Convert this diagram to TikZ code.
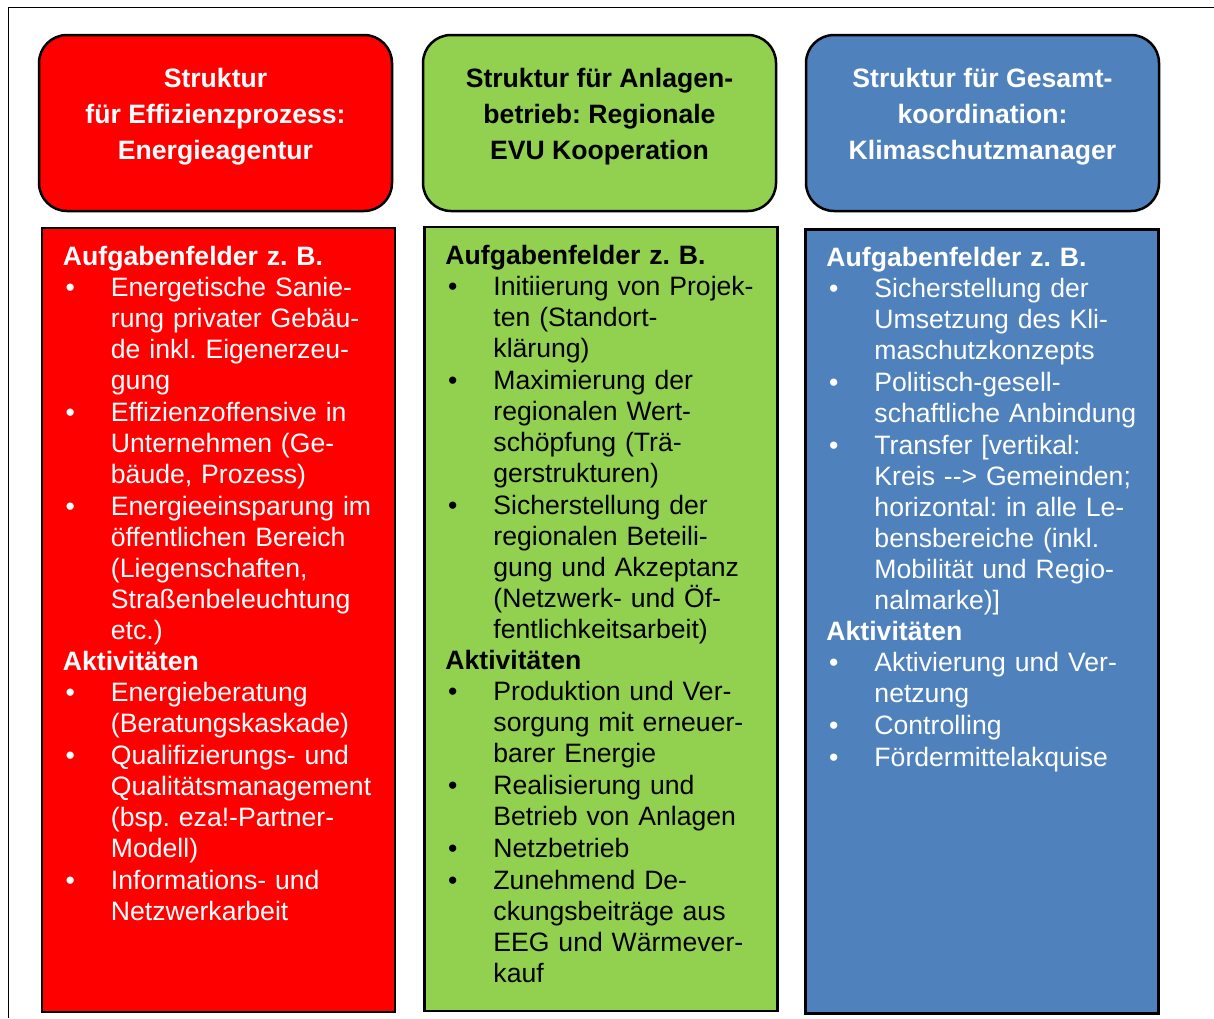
\documentclass[tikz,border=0pt]{standalone}
\usepackage{fontspec}
\setmainfont{Liberation Sans}
\usepackage{enumitem}
\usetikzlibrary{positioning}
\definecolor{effred}{HTML}{FF0000}
\definecolor{evugreen}{HTML}{92D050}
\definecolor{kliblue}{HTML}{4F81BD}
\setlist[itemize]{nosep, itemsep=1pt, leftmargin=48pt, labelsep=36pt, label=\textbullet}
\newcommand{\bodyfont}{\fontsize{26.6}{31}\selectfont}
\hyphenpenalty=10000
\frenchspacing

\begin{document}
\begin{tikzpicture}[x=1pt, y=-1pt,
  titlebox/.style={draw=black, line width=2.5pt, rounded corners=28pt, minimum width=353pt, minimum height=176pt, inner sep=0pt},
  titletext/.style={font=\bfseries\fontsize{26.6}{36}\selectfont, align=center, inner sep=0pt},
  bodybox/.style={draw=black, line width=2.5pt, minimum width=353pt, minimum height=784pt, inner sep=0pt},
  bodytext/.style={font=\bodyfont, text width=335pt, align=left, inner sep=0pt, anchor=north west}]
  \useasboundingbox (0,0) rectangle (1214,1018);
  % frame
  \draw[line width=1.5pt] (1214,7.5) -- (8.5,7.5) -- (8.5,1018);

  % title boxes
  \node[titlebox, fill=effred] (tred) at (215.5,123) {};
  \node[titlebox, fill=evugreen] (tgreen) at (599.5,123) {};
  \node[titlebox, fill=kliblue] (tblue) at (982.5,123) {};
  \node[titletext, text=white] (tredlbl) at ([yshift=6pt]tred.center) {Struktur\\ für Effizienzprozess:\\ Energieagentur};
  \node[titletext, text=black] (tgreenlbl) at ([yshift=6pt]tgreen.center) {Struktur für Anlagen-\\ betrieb: Regionale\\ EVU Kooperation};
  \node[titletext, text=white] (tbluelbl) at ([yshift=6pt]tblue.center) {Struktur für Gesamt-\\ koordination:\\ Klimaschutzmanager};

  % body boxes
  \node[bodybox, fill=effred] (bred) at (218.5,620) {};
  \node[bodybox, fill=evugreen] (bgreen) at (601,619) {};
  \node[bodybox, fill=kliblue] (bblue) at (982,621.5) {};

  \node[bodytext, text=white] (bredtxt) at ([xshift=22pt, yshift=-19pt]bred.north west) {%
    \textbf{Aufgabenfelder z. B.}
    \begin{itemize}
      \item Energetische Sanie-\\ rung privater Gebäu-\\ de inkl. Eigenerzeu-\\ gung
      \item Effizienzoffensive in\\ Unternehmen (Ge-\\ bäude, Prozess)
      \item Energieeinsparung im\\ öffentlichen Bereich\\ (Liegenschaften,\\ Straßenbeleuchtung\\ etc.)
    \end{itemize}
    \textbf{Aktivitäten}
    \begin{itemize}
      \item Energieberatung\\ (Beratungskaskade)
      \item Qualifizierungs- und\\ Qualitätsmanagement\\ (bsp. eza!-Partner-\\ Modell)
      \item Informations- und\\ Netzwerkarbeit
    \end{itemize}};

  \node[bodytext, text=black] (bgreentxt) at ([xshift=22pt, yshift=-19pt]bgreen.north west) {%
    \textbf{Aufgabenfelder z. B.}
    \begin{itemize}
      \item Initiierung von Projek-\\ ten (Standort-\\ klärung)
      \item Maximierung der\\ regionalen Wert-\\ schöpfung (Trä-\\ gerstrukturen)
      \item Sicherstellung der\\ regionalen Beteili-\\ gung und Akzeptanz\\ (Netzwerk- und Öf-\\ fentlichkeitsarbeit)
    \end{itemize}
    \textbf{Aktivitäten}
    \begin{itemize}
      \item Produktion und Ver-\\ sorgung mit erneuer-\\ barer Energie
      \item Realisierung und\\ Betrieb von Anlagen
      \item Netzbetrieb
      \item Zunehmend De-\\ ckungsbeiträge aus\\ EEG und Wärmever-\\ kauf
    \end{itemize}};

  \node[bodytext, text=white] (bbluetxt) at ([xshift=22pt, yshift=-19pt]bblue.north west) {%
    \textbf{Aufgabenfelder z. B.}
    \begin{itemize}
      \item Sicherstellung der\\ Umsetzung des Kli-\\ maschutzkonzepts
      \item Politisch-gesell-\\ schaftliche Anbindung
      \item Transfer [vertikal:\\ Kreis -{}-{}> Gemeinden;\\ horizontal: in alle Le-\\ bensbereiche (inkl.\\ Mobilität und Regio-\\ nalmarke)]
    \end{itemize}
    \textbf{Aktivitäten}
    \begin{itemize}
      \item Aktivierung und Ver-\\ netzung
      \item Controlling
      \item Fördermittelakquise
    \end{itemize}};
\end{tikzpicture}
\end{document}
